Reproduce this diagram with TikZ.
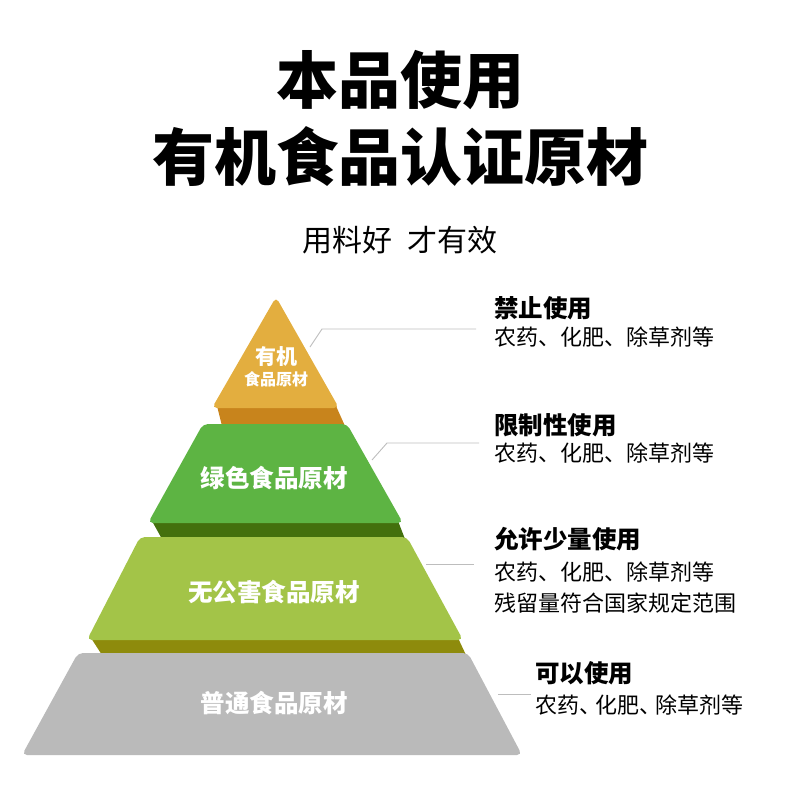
\documentclass[tikz,border=0pt]{standalone}
\usepackage{fontspec}
\usepackage{tikz}
\usetikzlibrary{positioning}
\setmainfont{Noto Sans CJK SC}
\definecolor{orgface}{HTML}{E3AE3F}
\definecolor{orgside}{HTML}{C8841C}
\definecolor{grnface}{HTML}{5DB443}
\definecolor{grnside}{HTML}{43700D}
\definecolor{limface}{HTML}{A3C448}
\definecolor{limside}{HTML}{8E8B0C}
\definecolor{gryface}{HTML}{BABABA}
\definecolor{leadgray}{HTML}{BDBDBD}

\begin{document}
\begin{tikzpicture}[x=1pt, y=-1pt,
    face/.style={rounded corners=5pt},
    lead/.style={draw=leadgray, line width=0.9pt},
    layer/.style={text=white, inner sep=0pt, font=\bfseries\fontsize{24.5}{28}\selectfont},
    head/.style={anchor=west, inner sep=0pt, font=\bfseries\fontsize{24.5}{28}\selectfont},
    body/.style={anchor=west, inner sep=0pt, font=\fontsize{22}{26}\selectfont}]
    \useasboundingbox (0,0) rectangle (800,800);

    % titles
    \node[font=\bfseries\fontsize{62}{70}\selectfont] (title) at (400,80) {本品使用};
    \node[font=\bfseries\fontsize{62}{70}\selectfont] (title2) at (400,157) {有机食品认证原材};
    \node[font=\fontsize{30}{34}\selectfont] (slogan) at (400,240) {用料好\hspace{0.5em}才有效};

    % pyramid, side bands first
    \fill[orgside] (217,406) -- (336,406) -- (345,426) -- (222,426) -- cycle;
    \fill[grnside] (152,521) -- (398,521) -- (405,539) -- (162,539) -- cycle;
    \fill[limside] (91,638) -- (458,638) -- (466,655) -- (102,655) -- cycle;

    \fill[orgface, face] (276,297) -- (339,408) -- (212,408) -- cycle;
    \fill[grnface, face] (203,424) -- (347,424) -- (403,523) -- (148,523) -- cycle;
    \fill[limface, face] (140,537) -- (407,537) -- (463,640) -- (87,640) -- cycle;
    \fill[gryface, face] (78,653) -- (468,653) -- (522,755) -- (22,755) -- cycle;

    % layer labels
    \node[layer, font=\bfseries\fontsize{21}{24}\selectfont] (org1) at (276,357) {有机};
    \node[layer, font=\bfseries\fontsize{16}{18}\selectfont] (org2) at (276,379) {食品原材};
    \node[layer] (grn) at (274,478) {绿色食品原材};
    \node[layer] (lim) at (274,592) {无公害食品原材};
    \node[layer] (gry) at (274,703) {普通食品原材};

    % notes on the right
    \node[head] (h1) at (494,308) {禁止使用};
    \node[body] (b1) at (494,337) {农药、化肥、除草剂等};
    \node[head] (h2) at (494,425) {限制性使用};
    \node[body] (b2) at (494,453) {农药、化肥、除草剂等};
    \node[head] (h3) at (494,539) {允许少量使用};
    \node[body] (b3) at (494,572) {农药、化肥、除草剂等};
    \node[body] (b3b) at (494,603) {残留量符合国家规定范围};
    \node[head] (h4) at (535,673) {可以使用};
    \node[body] (b4) at (535,705) {农药、\kern-0.27em化肥、\kern-0.27em除草剂等};

    % leader lines
    \coordinate (l1a) at (310,347);
    \coordinate (l1b) at (322,329);
    \coordinate (l1c) at (476,329);
    \coordinate (l2a) at (372,460);
    \coordinate (l2b) at (387,443);
    \coordinate (l2c) at (479,443);
    \coordinate (l3a) at (426,564);
    \coordinate (l3b) at (474,564);
    \coordinate (l4a) at (498,694);
    \coordinate (l4b) at (531,694);
    \draw[lead] (l1a) -- (l1b) -- (l1c);
    \draw[lead] (l2a) -- (l2b) -- (l2c);
    \draw[lead] (l3a) -- (l3b);
    \draw[lead] (l4a) -- (l4b);
\end{tikzpicture}
\end{document}
